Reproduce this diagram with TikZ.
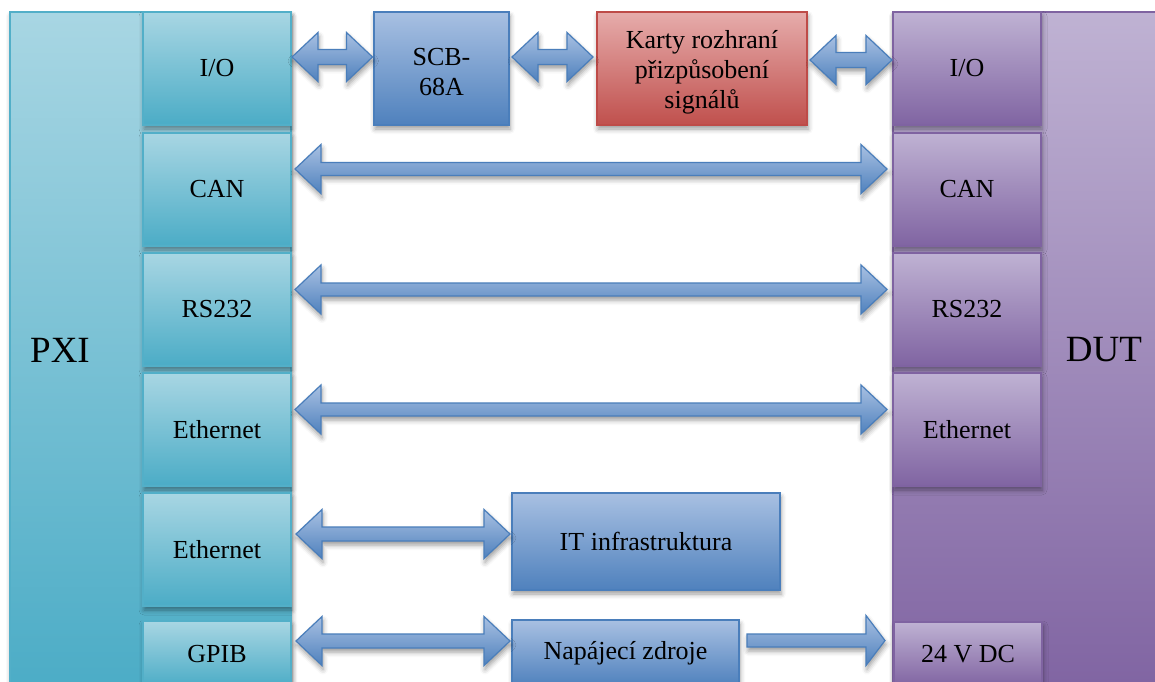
\documentclass[tikz,border=0pt]{standalone}
\usepackage{fontspec}
\setmainfont{Liberation Serif}
\usetikzlibrary{calc,shadows.blur}

\definecolor{pxitop}{HTML}{A8D6E3}
\definecolor{pxibot}{HTML}{4BACC6}
\definecolor{pxiline}{HTML}{52AFC8}
\definecolor{duttop}{HTML}{BFB2D3}
\definecolor{dutbot}{HTML}{8064A2}
\definecolor{dutline}{HTML}{7F63A1}
\definecolor{bluetop}{HTML}{A8C0E2}
\definecolor{bluebot}{HTML}{4F81BD}
\definecolor{blueline}{HTML}{4A7EBB}
\definecolor{redtop}{HTML}{E6ACAB}
\definecolor{redbot}{HTML}{C0504D}
\definecolor{redline}{HTML}{BE4B48}

% arrow geometry
\def\arrhl{26pt}   % head length
\def\arrhw{24.5pt} % head half width

\tikzset{
  shad/.style={blur shadow={shadow xshift=1pt, shadow yshift=-4pt,
      shadow blur radius=5pt, shadow opacity=40}},
  base/.style={rectangle, inner sep=0pt, outer sep=0pt, line width=1.2pt,
      align=center, font=\fontsize{26}{30}\selectfont, anchor=north west, shad},
  pxibig/.style={base, draw=pxiline, top color=pxitop, bottom color=pxibot},
  dutbig/.style={base, draw=dutline, top color=duttop, bottom color=dutbot},
  pxibox/.style={base, draw=pxiline, top color=pxitop, bottom color=pxibot,
      minimum width=148pt, minimum height=113pt},
  dutbox/.style={base, draw=dutline, top color=duttop, bottom color=dutbot,
      minimum width=148pt, minimum height=113pt},
  bluebox/.style={base, draw=blueline, top color=bluetop, bottom color=bluebot},
  redbox/.style={base, draw=redline, top color=redtop, bottom color=redbot},
  biglabel/.style={font=\fontsize{37}{40}\selectfont, inner sep=0pt},
  arrowfill/.style={draw=blueline, line width=1.2pt, line join=miter,
      top color=bluetop, bottom color=bluebot, shad},
}

% double block arrow between two nodes on the horizontal axis y=#3
% #4, #5: gaps at the left/right node, #6: half width of the shaft
\newcommand\dblarrow[6]{%
  \path[arrowfill] let \p1=($(#1.east)+(#4,0)$), \p2=($(#2.west)-(#5,0)$), \p3=(0,#3) in
    (\x1,\y3) -- (\x1+\arrhl,\y3+\arrhw) -- (\x1+\arrhl,\y3+#6)
    -- (\x2-\arrhl,\y3+#6) -- (\x2-\arrhl,\y3+\arrhw) -- (\x2,\y3)
    -- (\x2-\arrhl,\y3-\arrhw) -- (\x2-\arrhl,\y3-#6)
    -- (\x1+\arrhl,\y3-#6) -- (\x1+\arrhl,\y3-\arrhw) -- cycle;}

% single block arrow pointing right
\newcommand\sglarrow[5]{%
  \path[arrowfill] let \p1=($(#1.east)+(#4,0)$), \p2=($(#2.west)-(#5,0)$), \p3=(0,#3) in
    (\x1,\y3+6.5pt) -- (\x2-19pt,\y3+6.5pt) -- (\x2-19pt,\y3+25pt) -- (\x2,\y3)
    -- (\x2-19pt,\y3-25pt) -- (\x2-19pt,\y3-6.5pt) -- (\x1,\y3-6.5pt) -- cycle;}

\begin{document}
\begin{tikzpicture}[x=1pt, y=-1pt]
\useasboundingbox (0,0) rectangle (1155,681);
\clip (0,0) rectangle (1155,681);

% main units
\node[pxibig, minimum width=281pt, minimum height=680pt] (pxi) at (10,12) {};
\node[dutbig, minimum width=300pt, minimum height=680pt] (dut) at (893,12) {};
\node[biglabel] (pxilabel) at (60,350) {PXI};
\node[biglabel] (dutlabel) at (1104,350) {DUT};

% PXI interfaces
\node[pxibox] (pio)   at (143,12)  {I/O};
\node[pxibox] (pcan)  at (143,133) {CAN};
\node[pxibox] (prs)   at (143,253) {RS232};
\node[pxibox] (peth)  at (143,373) {Ethernet};
\node[pxibox] (peth2) at (143,493) {Ethernet};
\node[pxibox, minimum height=66pt] (pgpib) at (143,621) {GPIB};

% DUT interfaces
\node[dutbox] (dio)  at (893,12)  {I/O};
\node[dutbox] (dcan) at (893,133) {CAN};
\node[dutbox] (drs)  at (893,253) {RS232};
\node[dutbox] (deth) at (893,373) {Ethernet};
\node[dutbox, minimum height=64pt] (dpwr) at (894,622) {24 V DC};

% intermediate blocks (taller text boxes push the lines slightly down)
\node[bluebox, text height=53.5pt, minimum width=135pt, minimum height=113pt] (scb)
  at (374,12) {SCB-\\68A};
\node[redbox, text height=85pt, minimum width=210pt, minimum height=113pt] (karty)
  at (597,12) {Karty rozhraní\\přizpůsobení\\signálů};
\node[bluebox, minimum width=268pt, minimum height=97pt] (it) at (512,493) {IT infrastruktura};
\node[bluebox, minimum width=227pt, minimum height=66pt] (psu) at (512,620) {Napájecí zdroje};

% connections
\dblarrow{pio}{scb}{57}{1pt}{1.5pt}{7.5pt}
\dblarrow{scb}{karty}{57}{3pt}{4pt}{7.5pt}
\dblarrow{karty}{dio}{60}{3pt}{1pt}{7.5pt}
\dblarrow{pcan}{dcan}{169}{4pt}{6pt}{6.5pt}
\dblarrow{prs}{drs}{289.5}{4pt}{6pt}{6.5pt}
\dblarrow{peth}{deth}{409.5}{4pt}{6pt}{6.5pt}
\dblarrow{peth2}{it}{534}{5pt}{2pt}{7pt}
\dblarrow{pgpib}{psu}{641}{5pt}{2pt}{7pt}
\sglarrow{psu}{dpwr}{640.5}{8pt}{9pt}
\end{tikzpicture}
\end{document}
